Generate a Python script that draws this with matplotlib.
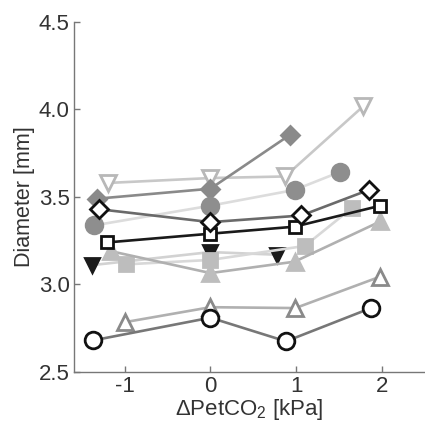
import matplotlib
matplotlib.use("Agg")
import matplotlib.pyplot as plt

plt.rcParams['font.family'] = ['Liberation Sans', 'DejaVu Sans']
plt.rcParams['mathtext.fontset'] = 'custom'
plt.rcParams['mathtext.rm'] = 'Liberation Sans'
plt.rcParams['mathtext.default'] = 'regular'

# Data (x = ΔPetCO2 [kPa], y = Diameter [mm])
open_circle_x = [-1.37, 0.0, 0.88, 1.87]
open_circle_y = [2.68, 2.81, 2.675, 2.865]

open_tri_up_x = [-0.99, 0.0, 0.99, 1.98]
open_tri_up_y = [2.785, 2.87, 2.865, 3.045]

fill_square_x = [-0.98, 0.0, 1.10, 1.65]
fill_square_y = [3.115, 3.14, 3.22, 3.437]

black_tri_down_x = [-1.385, 0.0, 0.77]
black_tri_down_y = [3.11, 3.185, 3.17]

fill_tri_up_x = [-1.16, 0.0, 0.98, 1.98]
fill_tri_up_y = [3.19, 3.065, 3.13, 3.36]

open_square_x = [-1.205, 0.0, 0.98, 1.98]
open_square_y = [3.24, 3.29, 3.33, 3.45]

open_diamond_x = [-1.30, 0.0, 1.06, 1.85]
open_diamond_y = [3.43, 3.356, 3.394, 3.541]

fill_circle_x = [-1.36, 0.0, 0.98, 1.505]
fill_circle_y = [3.337, 3.45, 3.54, 3.642]

fill_diamond_x = [-1.32, 0.0, 0.93]
fill_diamond_y = [3.49, 3.547, 3.856]

open_tri_down_x = [-1.19, 0.0, 0.87, 1.78]
open_tri_down_y = [3.58, 3.608, 3.617, 4.018]

fig = plt.figure(figsize=(4.25, 4.30), dpi=100)
ax = fig.add_axes([0.174, 0.135, 0.826, 0.814])

lw = 1.9
mew = 2.0

def series(x, y, marker, line_c, face, edge, ms):
    ax.plot(x, y, color=line_c, lw=lw, marker=marker, ms=ms,
            markerfacecolor=face, markeredgecolor=edge, markeredgewidth=mew,
            zorder=2)

series(open_tri_down_x, open_tri_down_y, 'v', '#c8c8c8', 'white', '#b8b8b8', 11)
series(fill_diamond_x, fill_diamond_y, 'D', '#8a8a8a', '#8a8a8a', '#8a8a8a', 9)
series(fill_circle_x, fill_circle_y, 'o', '#dcdcdc', '#8e8e8e', '#8e8e8e', 12)
series(black_tri_down_x, black_tri_down_y, 'v', '#d2d2d2', '#1a1a1a', '#1a1a1a', 10)
series(fill_square_x, fill_square_y, 's', '#d8d8d8', '#bdbdbd', '#bdbdbd', 10)
series(fill_tri_up_x, fill_tri_up_y, '^', '#b0b0b0', '#bdbdbd', '#bdbdbd', 11)
series(open_square_x, open_square_y, 's', '#1a1a1a', 'white', '#111111', 9)
series(open_diamond_x, open_diamond_y, 'D', '#6a6a6a', 'white', '#111111', 9)
series(open_tri_up_x, open_tri_up_y, '^', '#b0b0b0', 'white', '#8a8a8a', 11)
series(open_circle_x, open_circle_y, 'o', '#777777', 'white', '#111111', 12)

ax.set_xlim(-1.59, 2.5)
ax.set_ylim(2.5, 4.5)
ax.set_xticks([-1, 0, 1, 2])
ax.set_xticklabels(['-1', '0', '1', '2'])
ax.set_yticks([2.5, 3.0, 3.5, 4.0, 4.5])
ax.set_yticklabels(['2.5', '3.0', '3.5', '4.0', '4.5'])

for s in ['top', 'right']:
    ax.spines[s].set_visible(False)
for s in ['left', 'bottom']:
    ax.spines[s].set_color('#777777')
    ax.spines[s].set_linewidth(1.0)

ax.tick_params(direction='in', length=4, width=1, color='#777777',
               labelsize=16, labelcolor='#333333', pad=3)
ax.set_xlabel('ΔPetCO$_2$ [kPa]', fontsize=16, color='#333333', labelpad=0)
ax.set_ylabel('Diameter [mm]', fontsize=15.5, color='#333333', labelpad=3)

fig.savefig('out.png', dpi=100)
